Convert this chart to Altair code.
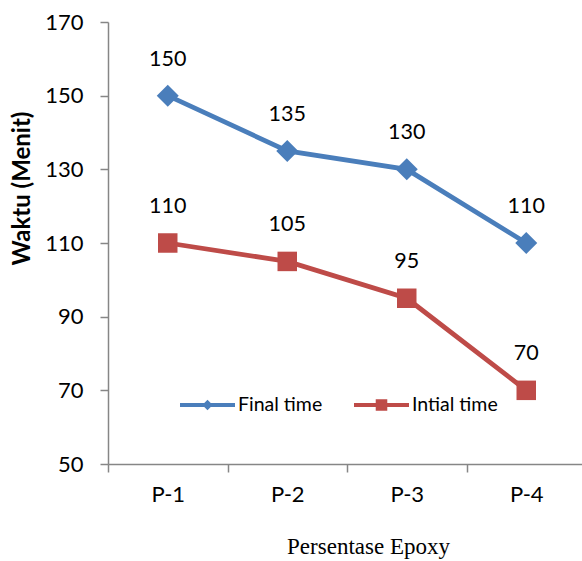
import altair as alt
import pandas as pd

categories = ["P-1", "P-2", "P-3", "P-4"]
final_time = [150, 135, 130, 110]
initial_time = [110, 105, 95, 70]
series_names = ["Final time", "Intial time"]
colors = ["#4A7EBB", "#BE4B48"]
y_ticks = [50, 70, 90, 110, 130, 150, 170]

rows = []
for c, f, i in zip(categories, final_time, initial_time):
    rows.append({"cat": c, "series": series_names[0], "value": f})
    rows.append({"cat": c, "series": series_names[1], "value": i})
df = pd.DataFrame(rows)

GRAY = "#868686"
FONT = "Lato"

x = alt.X(
    "cat:N",
    sort=categories,
    scale=alt.Scale(type="band", paddingInner=0, paddingOuter=0, range=[0, 478]),
    axis=alt.Axis(
        title="Persentase Epoxy",
        tickBand="extent",
        labelAngle=0,
        labelFont=FONT,
        labelFontSize=22,
        labelColor="black",
        labelPadding=12,
        tickSize=8,
        tickColor=GRAY,
        domainColor=GRAY,
        tickWidth=1.5,
        domainWidth=1.5,
        titleFont="Liberation Serif",
        titleFontSize=23,
        titleFontWeight="normal",
        titleColor="black",
        titleX=260,
        titleY=89,
        titleAlign="center",
        titleBaseline="alphabetic",
    ),
)
y = alt.Y(
    "value:Q",
    scale=alt.Scale(domain=[50, 170], nice=False, zero=False),
    axis=alt.Axis(
        values=y_ticks,
        grid=False,
        title="Waktu (Menit)",
        labelFont=FONT,
        labelFontSize=22,
        labelColor="black",
        labelPadding=17,
        tickSize=8,
        tickColor=GRAY,
        domainColor=GRAY,
        tickWidth=1.5,
        domainWidth=1.5,
        titleFont=FONT,
        titleFontSize=24,
        titleFontWeight="bold",
        titleColor="black",
        titleX=-86,
        titleY=166,
        titleAngle=270,
        titleAlign="center",
        titleBaseline="middle",
    ),
)

color_scale = alt.Scale(domain=series_names, range=colors)
base = alt.Chart(df)
final_df = base.transform_filter(alt.datum.series == series_names[0])
init_df = base.transform_filter(alt.datum.series == series_names[1])

line_final = final_df.mark_line(strokeWidth=4.8, color=colors[0]).encode(x=x, y=y)
line_init = init_df.mark_line(strokeWidth=4.8, color=colors[1]).encode(x=x, y=y)
diamonds = final_df.mark_point(
    shape="diamond", filled=True, size=484, opacity=1, color=colors[0]
).encode(x=x, y=y)
squares = init_df.mark_point(
    shape="square", filled=True, size=380, opacity=1, color=colors[1]
).encode(x=x, y=y)
labels = base.mark_text(
    dy=-36, font=FONT, fontSize=21.5, color="black", baseline="middle"
).encode(x=x, y=y, text="value:Q")

line_part = "M-1,-0.075L1,-0.075L1,0.075L-1,0.075Z"
leg_diamond = line_part + "M0,-0.19L0.19,0L0,0.19L-0.19,0Z"
leg_square = line_part + "M-0.21,-0.21L0.21,-0.21L0.21,0.21L-0.21,0.21Z"

legend = alt.Legend(
    title=None,
    orient="none",
    legendX=72,
    legendY=355.5,
    direction="horizontal",
    symbolSize=3025,
    symbolStrokeWidth=0,
    labelOffset=3,
    columnPadding=31,
    padding=0,
    labelFont=FONT,
    labelFontSize=19.5,
    labelColor="black",
)
legend_layer = base.mark_point(filled=True, opacity=1, size=0).encode(
    x=x,
    y=y,
    color=alt.Color("series:N", scale=color_scale, legend=legend),
    shape=alt.Shape(
        "series:N",
        scale=alt.Scale(domain=series_names, range=[leg_diamond, leg_square]),
        legend=legend,
    ),
)

chart = (
    alt.layer(line_final, line_init, diamonds, squares, labels, legend_layer)
    .properties(
        width=474,
        height=442,
        padding={"left": 108, "top": 22, "right": 0, "bottom": 97},
        autosize=alt.AutoSizeParams(type="none"),
        background="white",
    )
    .configure_view(stroke=None)
)

chart.save("out.html", embed_options={"renderer": "svg", "actions": False})
